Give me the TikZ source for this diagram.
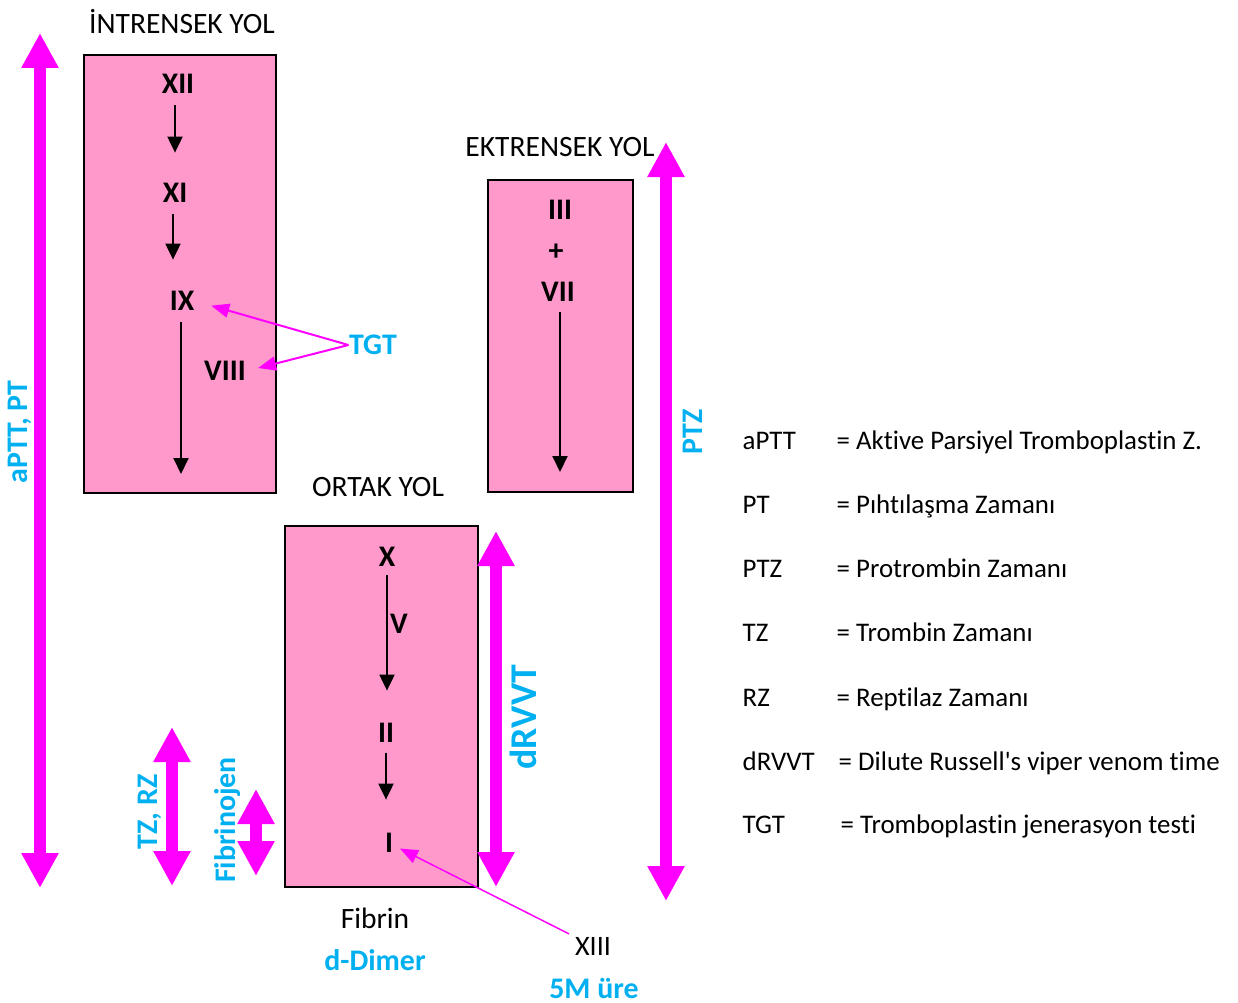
\documentclass[tikz,border=0pt]{standalone}
\usepackage{fontspec}
\setmainfont{Carlito}[Ligatures={NoCommon,TeXOff}]
\usetikzlibrary{arrows.meta,positioning}
\definecolor{boxpink}{RGB}{255,153,204}
\definecolor{testmag}{RGB}{255,0,255}
\definecolor{testcyan}{RGB}{0,176,240}
\tikzset{every scope/.style={>={Triangle[length=3.2mm,width=3mm]},thick}}
\tikzset{
  pathbox/.style={draw=black,line width=0.4mm,fill=boxpink},
  factor/.style={font=\fontsize{17}{20}\selectfont\bfseries,inner sep=0pt},
  heading/.style={font=\fontsize{16.8}{20}\selectfont,inner sep=0pt},
  testlbl/.style={font=\fontsize{17}{20}\selectfont\bfseries,text=testcyan,inner sep=0pt},
  flow/.style={->,line width=0.4mm},
  testrange/.style={testmag,line width=2.4mm,{Triangle[length=7mm,width=7mm]}-{Triangle[length=7mm,width=7mm]}},
  pointer/.style={testmag,line width=0.4mm,-{Triangle[length=3.6mm,width=2.8mm]}},
  legend/.style={font=\fontsize{15.3}{18}\selectfont,anchor=base west,inner sep=0pt}
}

\begin{document}
\begin{tikzpicture}[x=0.2mm,y=-0.2mm,>={Triangle[length=3.2mm,width=3mm]}]
      \useasboundingbox (0,0) rectangle (1238,1003);
      \draw[pathbox] (84,55) rectangle (276,493);
      \draw[pathbox] (488,180) rectangle (633,492);
      \draw[pathbox] (285,526) rectangle (478,887);
      \node[heading] (intr) at (182,22) {İNTRENSEK YOL};
      \node[heading] (ekst) at (560,147) {EKTRENSEK YOL};
      \node[heading] (ortak) at (378,487) {ORTAK YOL};
      \node[factor] (xii) at (178,84) {XII};
      \node[factor] (xi) at (175,193) {XI};
      \node[factor] (ix) at (182,301) {IX};
      \node[factor] (viii) at (225,371) {VIII};
      \coordinate (ixend) at (181,474);
      \draw[flow, shorten <=2.2mm, shorten >=6mm] (xii.south -| 175,0) -- (xi.north -| 175,0);
      \draw[flow, shorten <=2.2mm, shorten >=6.2mm] (xi.south -| 173,0) -- (ix.north -| 173,0);
      \draw[flow, shorten <=2.2mm] (ix.south -| ixend) -- (ixend);
      \node[testlbl] (tgt) at (373,345) {TGT};
      \draw[pointer, shorten >=3.4mm] (tgt.west) -- (ix.east);
      \draw[pointer, shorten >=2.4mm] (tgt.west) -- (viii.east);
      \node[factor] (iii) at (560,210) {III};
      \node[factor] (plus) at (556,252) {+};
      \node[factor] (vii) at (558,292) {VII};
      \coordinate (viiend) at (560,472);
      \draw[flow, shorten <=2mm] (vii.south -| viiend) -- (viiend);
      \node[factor] (x) at (387,557) {X};
      \node[factor] (v) at (399,624) {V};
      \node[factor] (ii) at (386,733) {II};
      \node[factor] (i) at (389,843) {I};
      \draw[flow, shorten <=1.6mm, shorten >=6.4mm] (x) -- (x |- ii.north);
      \draw[flow, shorten <=2mm, shorten >=6.6mm] (ii) -- (ii |- i.north);
      \node[heading] (fibrin) at (375,918) {Fibrin};
      \node[testlbl] (ddimer) at (375,960) {d-Dimer};
      \node[heading, font=\fontsize{16}{19}\selectfont] (xiii) at (593,946) {XIII};
      \node[testlbl] (ure) at (594,988) {5M üre};
      \draw[pointer, line width=0.3mm, shorten <=1.2mm, shorten >=1.4mm] (xiii) -- (i);
      \coordinate (apttbot) at (40,888);
      \coordinate (aptttop) at (40,33);
      \draw[testrange] (apttbot) -- (aptttop);
      \node[testlbl, rotate=90] (aptt) at (20,432) {aPTT, PT};
      \coordinate (ptzbot) at (666,901);
      \coordinate (ptztop) at (666,142);
      \draw[testrange] (ptzbot) -- (ptztop);
      \node[testlbl, rotate=90] (ptz) at (693,432) {PTZ};
      \coordinate (drvvtbot) at (496,887);
      \coordinate (drvvttop) at (496,531);
      \draw[testrange] (drvvtbot) -- (drvvttop);
      \node[testlbl, rotate=90, font=\fontsize{21.5}{24}\selectfont\bfseries] (drvvt) at (523,717) {dRVVT};
      \coordinate (tzbot) at (172,886);
      \coordinate (tztop) at (172,727);
      \draw[testrange] (tzbot) -- (tztop);
      \node[testlbl, rotate=90] (tzrz) at (150,812) {TZ, RZ};
      \coordinate (fibbot) at (256,876);
      \coordinate (fibtop) at (256,789);
      \draw[testrange] (fibbot) -- (fibtop);
      \node[testlbl, rotate=90] (fibrinojen) at (228,820) {Fibrinojen};
      \node[legend] (kaptt) at (742,449) {aPTT};
      \node[legend] (daptt) at (836,449) {= Aktive Parsiyel Tromboplastin Z.};
      \node[legend] (kpt) at (742,513) {PT};
      \node[legend] (dpt) at (836,513) {= Pıhtılaşma Zamanı};
      \node[legend] (kptz) at (742,577) {PTZ};
      \node[legend] (dptz) at (836,577) {= Protrombin Zamanı};
      \node[legend] (ktz) at (742,641) {TZ};
      \node[legend] (dtz) at (836,641) {= Trombin Zamanı};
      \node[legend] (krz) at (742,706) {RZ};
      \node[legend] (drz) at (836,706) {= Reptilaz Zamanı};
      \node[legend] (kdrvvt) at (742,770) {dRVVT};
      \node[legend] (ddrvvt) at (838,770) {= Dilute Russell's viper venom time};
      \node[legend] (ktgt) at (742,833) {TGT};
      \node[legend] (dtgt) at (840,833) {= Tromboplastin jenerasyon testi};
    \end{tikzpicture}
\end{document}
